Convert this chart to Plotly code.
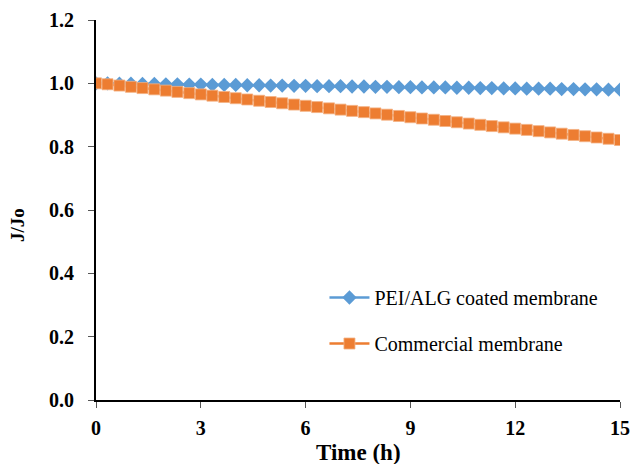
import plotly.graph_objects as go

time_h = [0.00, 0.33, 0.67, 1.00, 1.33, 1.67, 2.00, 2.33, 2.67, 3.00,
          3.33, 3.67, 4.00, 4.33, 4.67, 5.00, 5.33, 5.67, 6.00, 6.33,
          6.67, 7.00, 7.33, 7.67, 8.00, 8.33, 8.67, 9.00, 9.33, 9.67,
          10.00, 10.33, 10.67, 11.00, 11.33, 11.67, 12.00, 12.33, 12.67, 13.00,
          13.33, 13.67, 14.00, 14.33, 14.67, 15.00]

pei_alg = [1.000, 1.000, 0.999, 0.999, 0.998, 0.998, 0.997, 0.997, 0.996, 0.996,
           0.995, 0.995, 0.995, 0.994, 0.994, 0.993, 0.993, 0.992, 0.992, 0.991,
           0.991, 0.991, 0.990, 0.990, 0.989, 0.989, 0.988, 0.988, 0.987, 0.987,
           0.987, 0.986, 0.986, 0.985, 0.985, 0.984, 0.984, 0.983, 0.983, 0.983,
           0.982, 0.982, 0.981, 0.981, 0.980, 0.980]

commercial = [1.000, 0.997, 0.993, 0.989, 0.985, 0.981, 0.977, 0.973, 0.969, 0.965,
              0.961, 0.957, 0.953, 0.949, 0.945, 0.941, 0.937, 0.933, 0.929, 0.925,
              0.921, 0.917, 0.913, 0.909, 0.905, 0.901, 0.897, 0.893, 0.889, 0.885,
              0.881, 0.877, 0.873, 0.869, 0.865, 0.861, 0.857, 0.853, 0.849, 0.845,
              0.841, 0.837, 0.833, 0.829, 0.825, 0.821]

x_ticks = [0, 3, 6, 9, 12, 15]
y_ticks = [0.0, 0.2, 0.4, 0.6, 0.8, 1.0, 1.2]
y_tick_labels = ["0.0", "0.2", "0.4", "0.6", "0.8", "1.0", "1.2"]

FONT = "Liberation Serif, Times New Roman, serif"

fig = go.Figure()
fig.add_trace(go.Scatter(
    x=time_h, y=pei_alg, mode="lines+markers", name="PEI/ALG coated membrane",
    line=dict(color="#5B9BD5", width=2.5),
    marker=dict(symbol="diamond", size=11, color="#5B9BD5"),
    legendgroup="a"))
fig.add_trace(go.Scatter(
    x=time_h, y=commercial, mode="lines+markers", name="Commercial membrane",
    line=dict(color="#ED7D31", width=2.5),
    marker=dict(symbol="square", size=11, color="#ED7D31",
                line=dict(color="#F4B183", width=0.8)),
    legendgroup="b"))

fig.update_layout(
    width=631, height=464,
    margin=dict(l=96, r=11, t=20, b=64),
    paper_bgcolor="white", plot_bgcolor="white",
    font=dict(family=FONT, color="black"),
    showlegend=True,
    legend=dict(x=0.436, y=0.321, xanchor="left", yanchor="top",
                font=dict(size=20, family=FONT, color="black"),
                traceorder="grouped", tracegroupgap=17,
                bgcolor="rgba(0,0,0,0)", itemwidth=40),
    xaxis=dict(range=[0, 15], tickvals=x_ticks, ticks="outside", ticklen=6,
               tickcolor="#555555", tickwidth=1, automargin=False,
               showline=True, linecolor="black", linewidth=2, showgrid=False,
               zeroline=False, tickfont=dict(size=20, family=FONT, weight="bold"),
               ticklabelstandoff=3),
    yaxis=dict(range=[0, 1.2], tickvals=y_ticks, ticktext=y_tick_labels,
               ticks="outside", ticklen=6, tickcolor="#555555", tickwidth=1,
               automargin=False,
               showline=True, linecolor="black", linewidth=2, showgrid=False,
               zeroline=False, tickfont=dict(size=20, family=FONT, weight="bold"),
               ticklabelstandoff=10),
    annotations=[
        dict(text="<b>Time (h)</b>", xref="paper", yref="paper", x=0.5, y=-0.137,
             xanchor="center", yanchor="middle", showarrow=False,
             font=dict(size=23, family=FONT, color="black")),
        dict(text="<b>J/Jo</b>", xref="paper", yref="paper", x=-0.151, y=0.46,
             xanchor="center", yanchor="middle", showarrow=False, textangle=-90,
             font=dict(size=19, family=FONT, color="black")),
    ],
)

fig.write_html(
    "out.html",
    config={"displayModeBar": False},
    post_script="document.body.style.margin='0';document.body.style.overflow='hidden';",
)
